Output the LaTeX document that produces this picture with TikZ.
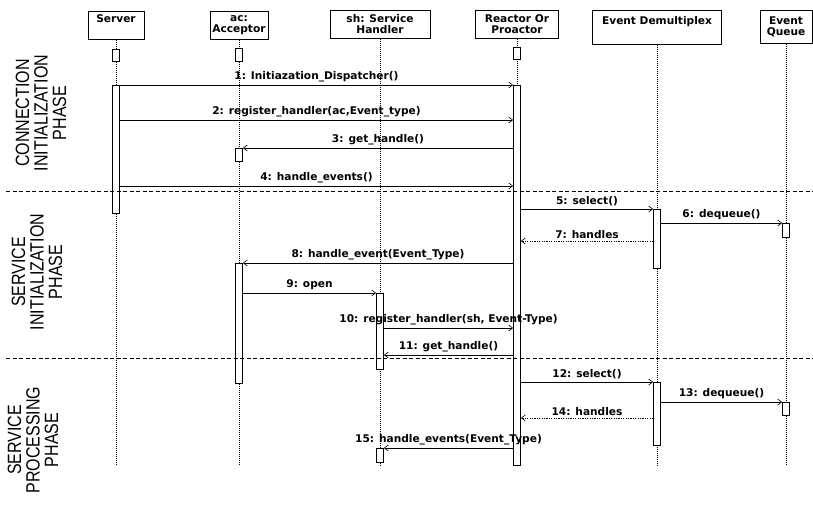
\documentclass[tikz,border=0pt]{standalone}
\usepackage{fontspec}
\newfontfamily\umlfont{DejaVu Sans}
\newfontfamily\phasefont{Liberation Sans}
\usetikzlibrary{
  arrows.meta,  % Straight Barb 箭头
  positioning   % 节点相对定位
}

\newcommand{\tall}[1]{\scalebox{1}[1.2]{#1}}

\tikzset{
  obj/.style={draw, fill=white, line width=0.7pt, anchor=north, align=center,
    inner sep=1.5pt, minimum height=28,
    font=\umlfont\bfseries\fontsize{10.6}{11}\selectfont},
  life/.style={line width=0.6pt, dash pattern=on 1pt off 1pt},
  actbox/.style={draw, fill=white, line width=0.7pt, anchor=north,
    minimum width=7, inner sep=0pt},
  msg/.style={-{Straight Barb[length=4pt,width=6pt]}, line width=0.6pt},
  reply/.style={msg, dash pattern=on 1.2pt off 1.2pt},
  lbl/.style={above=2.5pt, inner sep=0pt,
    font=\umlfont\bfseries\fontsize{10.6}{11}\selectfont},
  phase/.style={rotate=90, align=center,
    font=\phasefont\fontsize{16}{18.5}\selectfont},
  sep/.style={line width=0.6pt, dash pattern=on 4pt off 2.5pt}
}

\begin{document}
\begin{tikzpicture}[x=1pt, y=-1pt]
  \useasboundingbox (0,0) rectangle (813,505);

  % =============== 对象头部 ===============
  \node[obj, minimum width=56]  (srv) at (116,11) {Server\\\strut};
  \node[obj, minimum width=58]  (acc) at (239,11) {ac:\\Acceptor};
  \node[obj, minimum width=100] (sh)  at (380,10) {sh: Service\\Handler};
  \node[obj, minimum width=83]  (rea) at (517,10) {Reactor Or\\Proactor};
  \node[obj, minimum width=129, minimum height=34] (dmx) at (657,10) {Event Demultiplex\\\strut};
  \node[obj, minimum width=52,  minimum height=33] (que) at (786,10) {Event\\Queue};

  % =============== 生命线 ===============
  \foreach \o in {srv, acc, sh, rea, dmx, que}
    \draw[life] (\o.south) -- (\o.south |- 0,465);

  % =============== 激活框 ===============
  % 头部下方的小框
  \node[actbox, minimum height=12] (srv0) at (116,49) {};
  \node[actbox, minimum height=13] (acc0) at (239,48) {};
  \node[actbox, minimum height=12] (rea0) at (517,47) {};
  % 各阶段的激活
  \node[actbox, minimum height=128] (srvA)  at (116,85)  {};
  \node[actbox, minimum height=380] (reaA)  at (517,85)  {};
  \node[actbox, minimum height=13]  (accA1) at (239,148) {};
  \node[actbox, minimum height=59]  (dmxA1) at (657,209) {};
  \node[actbox, minimum height=14]  (queA1) at (786,223) {};
  \node[actbox, minimum height=120] (accA2) at (239,263) {};
  \node[actbox, minimum height=76]  (shA1)  at (380,293) {};
  \node[actbox, minimum height=63]  (dmxA2) at (657,382) {};
  \node[actbox, minimum height=13]  (queA2) at (786,402) {};
  \node[actbox, minimum height=14]  (shA2)  at (380,448) {};

  % =============== 消息 ===============
  \draw[msg] (srvA.east |- 0,85)  -- (reaA.west |- 0,85)  node[lbl, midway] {1: Initiazation\_Dispatcher()};
  \draw[msg] (srvA.east |- 0,120) -- (reaA.west |- 0,120) node[lbl, midway] {2: register\_handler(ac,Event\_type)};
  \draw[msg] (reaA.west |- 0,148) -- (accA1.east |- 0,148) node[lbl, midway] {3: get\_handle()};
  \draw[msg] (srvA.east |- 0,186) -- (reaA.west |- 0,186) node[lbl, midway] {4: handle\_events()};
  \draw[msg] (reaA.east |- 0,209) -- (dmxA1.west |- 0,209) node[lbl, midway] {5: select()};
  \draw[msg] (dmxA1.east |- 0,223) -- (queA1.west |- 0,223) node[lbl, midway] {6: dequeue()};
  \draw[reply] (dmxA1.west |- 0,241) -- (reaA.east |- 0,241) node[lbl, midway] {7: handles};
  \draw[msg] (reaA.west |- 0,263) -- (accA2.east |- 0,263) node[lbl, midway] {8: handle\_event(Event\_Type)};
  \draw[msg] (accA2.east |- 0,293) -- (shA1.west |- 0,293) node[lbl, midway] {9: open};
  \draw[msg] (shA1.east |- 0,328) -- (reaA.west |- 0,328) node[lbl, midway] {10: register\_handler(sh, Event-Type)};
  \draw[msg] (reaA.west |- 0,355) -- (shA1.east |- 0,355) node[lbl, midway] {11: get\_handle()};
  \draw[msg] (reaA.east |- 0,382) -- (dmxA2.west |- 0,382) node[lbl, midway] {12: select()};
  \draw[msg] (dmxA2.east |- 0,402) -- (queA2.west |- 0,402) node[lbl, midway] {13: dequeue()};
  \draw[reply] (dmxA2.west |- 0,418) -- (reaA.east |- 0,418) node[lbl, midway] {14: handles};
  \draw[msg] (reaA.west |- 0,448) -- (shA2.east |- 0,448) node[lbl, midway] {15: handle\_events(Event\_Type)};

  % =============== 阶段分隔线与标签 ===============
  \draw[sep] (6,191) -- (813,191);
  \draw[sep] (6,358) -- (813,358);

  \node[phase] (ph1) at (41,113) {\tall{CONNECTION}\\\tall{INITIALIZATION}\\\tall{PHASE}};
  \node[phase] (ph2) at (37,272) {\tall{SERVICE}\\\tall{INITIALIZATION}\\\tall{PHASE}};
  \node[phase] (ph3) at (33,440) {\tall{SERVICE}\\\tall{PROCESSING}\\\tall{PHASE}};
\end{tikzpicture}
\end{document}
